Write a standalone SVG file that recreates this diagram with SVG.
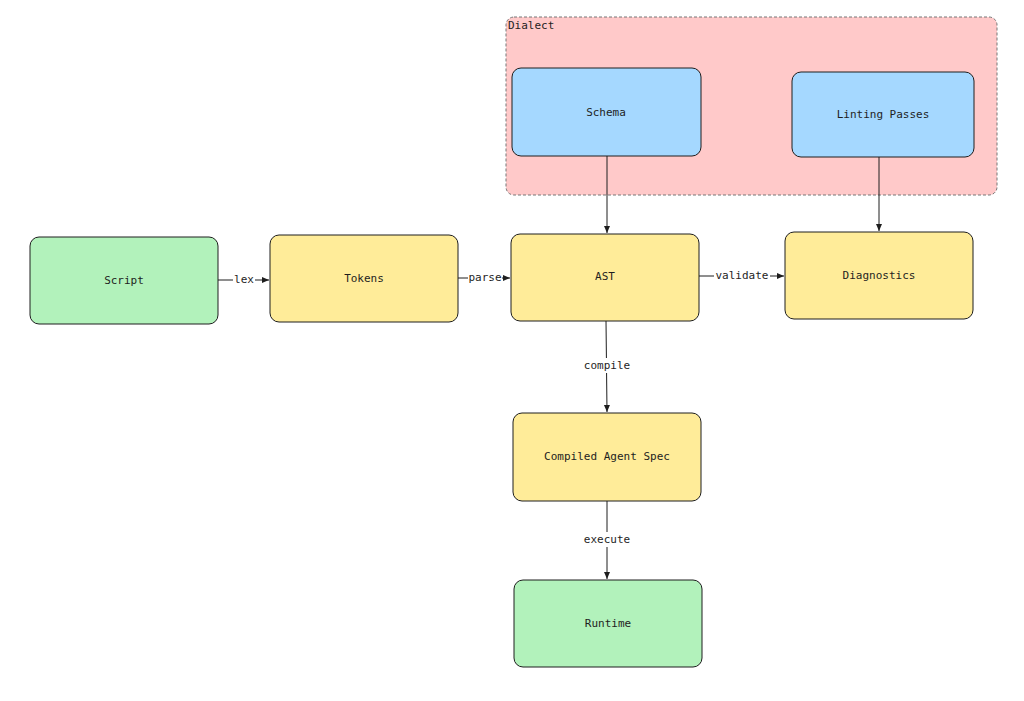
<svg xmlns="http://www.w3.org/2000/svg" width="1024" height="701" viewBox="0 0 1024 701">
<defs>
<marker id="ah" markerWidth="8" markerHeight="8" refX="7" refY="4" orient="auto" markerUnits="userSpaceOnUse"><path d="M0,1 L7,4 L0,7 Z" fill="#1e1e1e"/></marker>
<style>
.n{stroke:#1e1e1e;stroke-width:1}
.y{fill:#ffec99}.g{fill:#b2f2bb}.b{fill:#a5d8ff}
text{font-family:"DejaVu Sans Mono","Liberation Mono",monospace;font-size:11px;fill:#1e1e1e}
.c{text-anchor:middle;dominant-baseline:central}
.e{stroke:#1e1e1e;stroke-width:1;fill:none;marker-end:url(#ah)}
.l{fill:#fff}
</style>
</defs>
<rect width="1024" height="701" fill="#fff"/>
<g id="dialect"><rect x="506" y="17" width="491" height="178" rx="8" fill="#ffc9c9" stroke="#777" stroke-dasharray="3 2"/><text x="508" y="29">Dialect</text></g>
<g id="schema"><rect class="n b" x="512" y="68" width="189" height="88" rx="9"/><text class="c" x="606" y="112">Schema</text></g>
<g id="linting"><rect class="n b" x="792" y="72" width="182" height="85" rx="9"/><text class="c" x="883" y="114">Linting Passes</text></g>
<g id="script"><rect class="n g" x="30" y="237" width="188" height="87" rx="9"/><text class="c" x="124" y="280">Script</text></g>
<g id="tokens"><rect class="n y" x="270" y="235" width="188" height="87" rx="9"/><text class="c" x="364" y="278">Tokens</text></g>
<g id="ast"><rect class="n y" x="511" y="234" width="188" height="87" rx="9"/><text class="c" x="605" y="276">AST</text></g>
<g id="diagnostics"><rect class="n y" x="785" y="232" width="188" height="87" rx="9"/><text class="c" x="879" y="275">Diagnostics</text></g>
<g id="compiled"><rect class="n y" x="513" y="413" width="188" height="88" rx="9"/><text class="c" x="607" y="456">Compiled Agent Spec</text></g>
<g id="runtime"><rect class="n g" x="514" y="580" width="188" height="87" rx="9"/><text class="c" x="608" y="623">Runtime</text></g>
<g id="connectors">
<path class="e" d="M218,280 L269,280"/><rect class="l" x="233" y="272" width="22" height="15"/><text class="c" x="244" y="279">lex</text>
<path class="e" d="M458,278 L510,278"/><rect class="l" x="468" y="270" width="34" height="15"/><text class="c" x="485" y="277">parse</text>
<path class="e" d="M699,276 L784,276"/><rect class="l" x="714" y="268" width="56" height="15"/><text class="c" x="742" y="275">validate</text>
<path class="e" d="M607,156 L607,233"/>
<path class="e" d="M879,157 L879,231"/>
<path class="e" d="M606,321 L607,412"/><rect class="l" x="583" y="358" width="48" height="15"/><text class="c" x="607" y="365">compile</text>
<path class="e" d="M607,501 L607,579"/><rect class="l" x="583" y="532" width="48" height="15"/><text class="c" x="607" y="539">execute</text>
</g>
</svg>
